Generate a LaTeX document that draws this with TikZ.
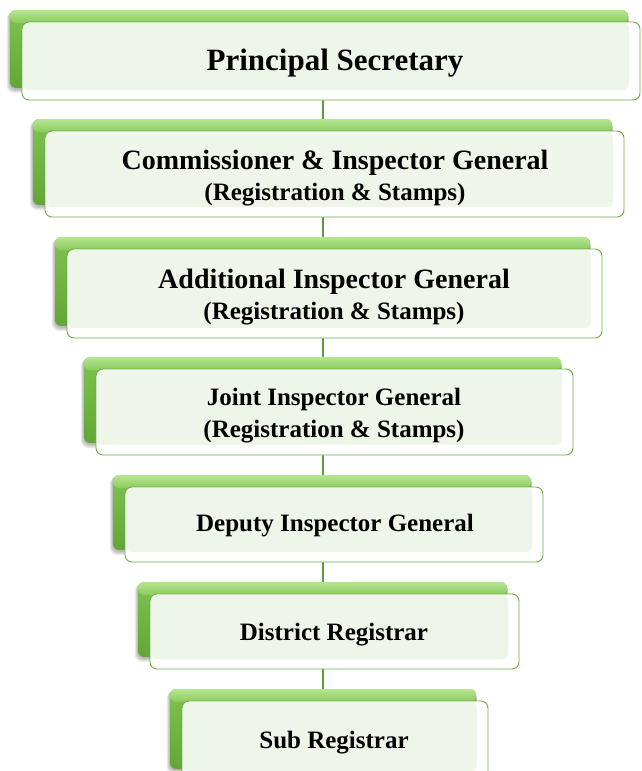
\documentclass[tikz,border=0pt]{standalone}
\usepackage{fontspec}
\setmainfont{Liberation Serif}
\usetikzlibrary{backgrounds}
\definecolor{ogreen}{HTML}{70AD47}
\definecolor{stripTop}{HTML}{B4E690}
\definecolor{stripBot}{HTML}{8CCA5E}
\definecolor{mgreen}{HTML}{7EC351}
\definecolor{dgreen}{HTML}{62A637}
\definecolor{panel}{HTML}{EEF5E9}
\definecolor{conngreen}{HTML}{5E9C3A}
\tikzset{
  backbox/.style={draw=none, rounded corners=6pt, top color=mgreen, bottom color=dgreen, inner sep=0pt, outer sep=0pt},
  backstrip/.style={rounded corners=6pt, top color=stripTop, bottom color=stripBot},
  frontbox/.style={draw=ogreen, line width=0.9pt, rounded corners=7pt, fill=white, inner sep=0pt, outer sep=0pt},
  panelfill/.style={fill=panel, rounded corners=6pt},
  softshadow/.style={fill=black, opacity=0.07, rounded corners=7pt},
  conn/.style={draw=conngreen, line width=2pt},
  lbl/.style={font=\bfseries, inner sep=0pt, text=black, anchor=base},
  big/.style={font=\bfseries\fontsize{31}{36}\selectfont},
  med/.style={font=\bfseries\fontsize{28}{32}\selectfont},
  sml/.style={font=\bfseries\fontsize{25}{30}\selectfont},
}
% #1 id, #2 left, #3 top, #4 right, #5 bottom (front box)
\newcommand\OrgBox[5]{%
  \foreach \s in {1,2,3,4}{%
    \path[softshadow] ({#2-12-\s*0.8},{#3-12+\s*0.5}) rectangle ({#4-12+\s*0.3},{#5-12+1+\s});
  }
  \node[backbox, minimum width={(#4)-(#2)}, minimum height={(#5)-(#3)}] (b#1) at ({(#2+#4)/2-12},{(#3+#5)/2-12}) {};
  \path[backstrip] ({#2-12},{#3-12}) rectangle ({#4-12},{#3+1});
  \node[frontbox, minimum width={(#4)-(#2)}, minimum height={(#5)-(#3)}] (f#1) at ({(#2+#4)/2},{(#3+#5)/2}) {};
  \path[panelfill] ({#2+1},{#3+1}) rectangle ({#4-11},{#5-10});
}
\begin{document}
\begin{tikzpicture}[x=1pt,y=-1pt]
\useasboundingbox (0,0) rectangle (641,771);
\coordinate (spine) at (323,0);

\OrgBox{1}{22}{22}{640}{100}
\OrgBox{2}{45}{131}{624}{217}
\OrgBox{3}{67}{249}{602}{338}
\OrgBox{4}{96}{369}{573}{455}
\OrgBox{5}{125}{487}{543}{562}
\OrgBox{6}{150}{594}{519}{669}
\OrgBox{7}{182}{701}{488}{781}

\node[lbl, big] (t1) at (335,70) {Principal Secretary};
\node[lbl, med] (t2a) at (335,169) {Commissioner \& Inspector General};
\node[lbl, sml] (t2b) at (335,200) {(Registration \& Stamps)};
\node[lbl, med] (t3a) at (334,288) {Additional Inspector General};
\node[lbl, sml] (t3b) at (334,319) {(Registration \& Stamps)};
\node[lbl, sml] (t4a) at (334,405) {Joint Inspector General};
\node[lbl, sml] (t4b) at (334,437) {(Registration \& Stamps)};
\node[lbl, sml] (t5) at (335,531) {Deputy Inspector General};
\node[lbl, sml] (t6) at (334,640) {District Registrar};
\node[lbl, sml] (t7) at (334,748) {Sub Registrar};

\begin{pgfonlayer}{background}
\fill[white] (0,0) rectangle (641,771);
\draw[conn] (spine |- f1.south) -- (spine |- b2.north);
\draw[conn] (spine |- f2.south) -- (spine |- b3.north);
\draw[conn] (spine |- f3.south) -- (spine |- b4.north);
\draw[conn] (spine |- f4.south) -- (spine |- b5.north);
\draw[conn] (spine |- f5.south) -- (spine |- b6.north);
\draw[conn] (spine |- f6.south) -- (spine |- b7.north);
\end{pgfonlayer}
\end{tikzpicture}
\end{document}
